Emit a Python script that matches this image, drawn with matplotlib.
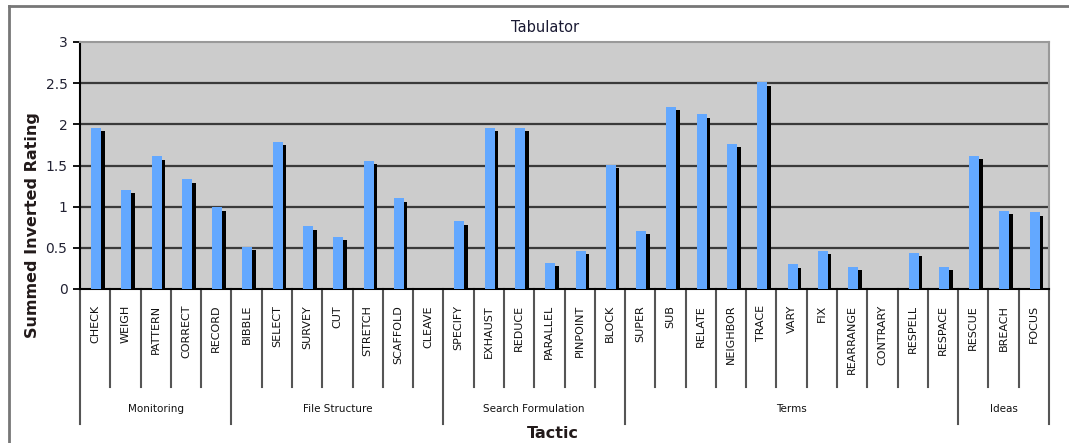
import matplotlib
matplotlib.use("Agg")
import matplotlib.pyplot as plt
from matplotlib.lines import Line2D

# ---- data ----
groups = ["Monitoring", "File Structure", "Search Formulation", "Terms", "Ideas"]
group_members = [
    ["CHECK", "WEIGH", "PATTERN", "CORRECT", "RECORD"],
    ["BIBBLE", "SELECT", "SURVEY", "CUT", "STRETCH", "SCAFFOLD", "CLEAVE"],
    ["SPECIFY", "EXHAUST", "REDUCE", "PARALLEL", "PINPOINT", "BLOCK"],
    ["SUPER", "SUB", "RELATE", "NEIGHBOR", "TRACE", "VARY", "FIX",
     "REARRANGE", "CONTRARY", "RESPELL", "RESPACE"],
    ["RESCUE", "BREACH", "FOCUS"],
]
categories = [c for g in group_members for c in g]
values = [1.96, 1.20, 1.61, 1.33, 0.99,
          0.51, 1.79, 0.76, 0.63, 1.56, 1.10, 0.0,
          0.82, 1.96, 1.96, 0.32, 0.46, 1.51,
          0.71, 2.21, 2.12, 1.76, 2.51, 0.30, 0.46, 0.27, 0.0, 0.44, 0.27,
          1.62, 0.95, 0.93]
yticks = [0, 0.5, 1, 1.5, 2, 2.5, 3]
ytick_labels = ["0", "0.5", "1", "1.5", "2", "2.5", "3"]

# ---- figure ----
W, H = 1069, 443
fig = plt.figure(figsize=(W / 100, H / 100), dpi=100)
L, R, T, B = 80, 1049, 42, 289
ax = fig.add_axes([L / W, 1 - B / H, (R - L) / W, (B - T) / H])
ax.set_facecolor("#cccccc")

n = len(categories)
x = [i + 0.5 for i in range(n)]
blue_w = 0.33
off = 0.03
shadow_x = [xi + off + blue_w / 2 + 0.06 for xi in x]
shadow_h = [max(v - 0.04, 0) if v > 0 else 0 for v in values]
ax.bar(shadow_x, shadow_h, width=0.12, color="black", zorder=3)
ax.bar([xi + off for xi in x], values, width=blue_w, color="#63a8ff", zorder=4)

ax.set_xlim(0, n)
ax.set_ylim(0, 3)
ax.set_yticks(yticks)
ax.set_yticklabels(ytick_labels, fontsize=10, color="#222233")
ax.tick_params(axis="y", length=5, width=1.3, color="black", pad=4)
ax.set_xticks([])
for yv in yticks[1:-1]:
    ax.axhline(yv, color="#3a3a3a", lw=1.6, zorder=2)

for s in ["top", "right"]:
    ax.spines[s].set_color("#999999")
    ax.spines[s].set_linewidth(1.5)
for s in ["left", "bottom"]:
    ax.spines[s].set_color("black")
    ax.spines[s].set_linewidth(1.5)

trans = ax.get_xaxis_transform()
ph = B - T
cat_line_bottom = -(387 - B) / ph
grp_line_bottom = -(424 - B) / ph
label_top = -(305 - B) / ph
grp_label_y = -(409 - B) / ph

for i, c in enumerate(categories):
    ax.text(i + 0.5, label_top, c, transform=trans, rotation=90,
            ha="center", va="top", fontsize=8, color="#111111")

boundaries = [0]
for g in group_members:
    boundaries.append(boundaries[-1] + len(g))
group_edges = set(boundaries)
for i in range(n + 1):
    bottom = grp_line_bottom if i in group_edges else cat_line_bottom
    ax.add_line(Line2D([i, i], [0, bottom], transform=trans, color="#555555",
                       lw=1.5, clip_on=False))

for gi, g in enumerate(groups):
    mid = (boundaries[gi] + boundaries[gi + 1]) / 2
    ax.text(mid, grp_label_y, g, transform=trans, ha="center", va="center",
            fontsize=7.5, color="#111111")

# titles
fig.text(545 / W, 1 - 28 / H, "Tabulator", ha="center", va="center",
         fontsize=10.5, color="#1a1a33")
fig.text(553 / W, 1 - 434 / H, "Tactic", ha="center", va="center",
         fontsize=11.5, fontweight="bold", color="#221a1a")
fig.text(33 / W, 1 - 225 / H, "Summed Inverted Rating", ha="center",
         va="center", rotation=90, fontsize=11.5, fontweight="bold",
         color="#221a1a")

# outer frame (left and top)
fig.add_artist(Line2D([9 / W, 9 / W], [0, 1 - 6 / H], transform=fig.transFigure,
                      color="#777777", lw=2))
fig.add_artist(Line2D([9 / W, 1], [1 - 6 / H, 1 - 6 / H], transform=fig.transFigure,
                      color="#777777", lw=2))

fig.savefig("out.png", dpi=100)
